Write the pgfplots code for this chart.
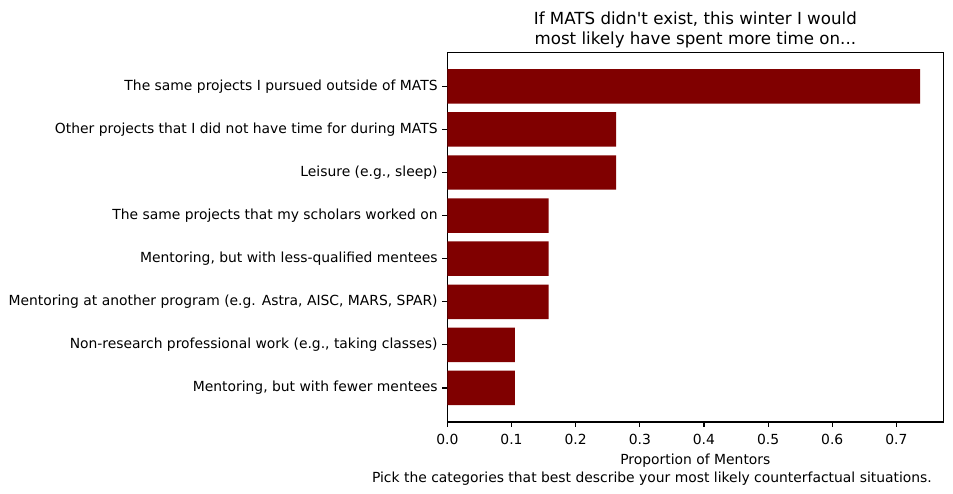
\documentclass[border=0pt]{standalone}
\usepackage{pgfplots}
\pgfplotsset{compat=1.18}
\usepackage{fontspec}
\setmainfont{DejaVu Sans}[Ligatures=TeXOff]
\definecolor{barred}{HTML}{800000}
\begin{document}
\begin{tikzpicture}[x=1pt,y=1pt]
\path[use as bounding box] (0,0) rectangle (686.16,355.68);
\begin{axis}[
  at={(322.1pt,51.84pt)}, anchor=south west,
  scale only axis, width=357.1pt, height=266.2pt,
  xbar, bar width=0.8,
  xmin=0, xmax=0.7732, ymin=-0.79, ymax=7.79,
  ytick={0,1,2,3,4,5,6,7},
  yticklabels={
    {Mentoring, but with fewer mentees},
    {Non-research professional work (e.g., taking classes)},
    {Mentoring at another program (e.g. Astra, AISC, MARS, SPAR)},
    {Mentoring, but with less-qualified mentees},
    {The same projects that my scholars worked on},
    {Leisure (e.g., sleep)},
    {Other projects that I did not have time for during MATS},
    {The same projects I pursued outside of MATS}},
  xtick={0,0.1,0.2,0.3,0.4,0.5,0.6,0.7},
  /pgf/number format/fixed,
  /pgf/number format/fixed zerofill,
  /pgf/number format/precision=1,
  /pgf/number format/assume math mode=true,
  tick align=outside, tick pos=left,
  major tick length=3.5pt,
  every tick/.style={black, line width=0.8pt},
  ytick style={black, line width=0.8pt},
  xtick style={black, line width=0.8pt},
  axis line style={line width=0.8pt},
  tick label style={font=\fontsize{10}{12}\selectfont},
  yticklabel style={xshift=0pt},
  xticklabel style={yshift=-1.5pt},
  xlabel={Proportion of Mentors},
  xlabel style={font=\fontsize{10}{12}\selectfont, yshift=-0.2pt},
  title={If MATS didn't exist, this winter I would\\most likely have spent more time on...},
  title style={font=\fontsize{12}{14.4}\selectfont, align=center, yshift=-6.5pt},
  clip=false,
]
\addplot[fill=barred, draw=none] coordinates {
  (0.10526,0) (0.10526,1) (0.15789,2) (0.15789,3) (0.15789,4) (0.26316,5) (0.26316,6) (0.73684,7)};
\end{axis}
\node[font=\fontsize{10}{12}\selectfont] at (469.4,11) {Pick the categories that best describe your most likely counterfactual situations.};
\end{tikzpicture}
\end{document}
